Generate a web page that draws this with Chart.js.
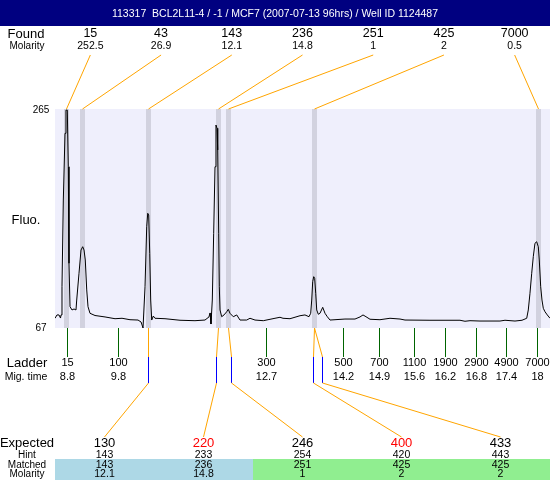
<!DOCTYPE html>
<html>
<head>
<meta charset="utf-8">
<script src="https://cdn.jsdelivr.net/npm/chart.js@4/dist/chart.umd.min.js"></script>
<style>
html,body{margin:0;padding:0;background:#fff;}
#wrap{width:550px;height:480px;position:relative;}
</style>
</head>
<body>
<div id="wrap"><canvas id="c" width="550" height="480"></canvas></div>
<script>
// ---- data ----
const titleText = "113317  BCL2L11-4 / -1 / MCF7 (2007-07-13 96hrs) / Well ID 1124487";
const traceTime = [8.565,8.604,8.643,8.673,8.683,8.702,8.728,8.761,8.780,8.806,8.825,8.839,8.859,8.898,8.937,8.976,8.990,9.035,9.074,9.107,9.133,9.158,9.186,9.211,9.250,9.348,9.544,9.740,9.877,10.033,10.190,10.250,10.288,10.327,10.360,10.380,10.399,10.419,10.438,10.458,10.489,10.522,10.718,11.012,11.305,11.501,11.579,11.599,11.618,11.644,11.671,11.697,11.716,11.736,11.750,11.769,11.781,11.795,11.828,11.873,11.926,11.957,11.990,12.055,12.122,12.186,12.317,12.382,12.480,12.642,12.871,12.969,13.028,13.165,13.361,13.458,13.537,13.570,13.590,13.609,13.629,13.648,13.668,13.688,13.719,13.752,13.805,13.850,13.895,13.948,14.241,14.437,14.535,14.594,14.652,14.731,14.926,15.122,15.318,15.416,15.905,16.492,16.590,16.688,16.884,17.275,17.373,17.569,17.706,17.798,17.829,17.862,17.896,17.927,17.960,17.993,18.025,18.044,18.072,18.097,18.123,18.156,18.201,18.254];
const traceFluo = [75.8,78.8,78.8,76,78.8,104.3,182.7,243,264,264,212.8,125.5,86.3,83.3,84.2,83.3,92.3,116.5,137.5,140.5,137.5,128.5,101.4,86.3,80.3,78.3,77,75.4,75.8,74.5,74.2,72.4,67,104.3,158.6,170.7,169.2,134.5,92.3,74.2,77.8,75.8,75.4,74,73.6,74.2,77,80.6,70.6,92.3,152.6,212.8,250.5,247.6,228,152.6,104.3,83.3,77.2,78.8,81.7,83.9,80.3,77.2,78.8,74.2,74.2,75.8,74.2,73.6,75.8,76.7,75.8,75.4,78.1,78.8,77.2,80.3,92.3,108.9,113.4,111.9,98.4,83.3,79.4,80.3,85.7,80.3,77.2,74.2,75.1,75.1,77,78.8,77.2,74.9,74.5,75.8,75.1,74.2,74,74,73.1,73.6,73.3,73.3,74,73.3,74,75.8,83.3,98.4,116.5,131.5,143.6,145,140.5,128.5,104.3,92.3,84.8,81.7,78.8,75.8];
const fluoMin = 67, fluoMax = 265;
const timeMin = 8.565, timeMax = 18.254;

const foundSizes = ["15","43","143","236","251","425","7000"];
const foundMolarity = ["252.5","26.9","12.1","14.8","1","2","0.5"];
const foundTimes = [8.79, 9.10, 10.38, 11.75, 11.96, 13.64, 18.01];

const ladderSizes = ["15","100","300","500","700","1100","1900","2900","4900","7000"];
const ladderTimes = [8.8, 9.8, 12.7, 14.2, 14.9, 15.6, 16.2, 16.8, 17.4, 18];

const expectedSizes = ["130","220","246","400","433"];
const expectedRed = [false, true, false, true, false];
const hintSizes = ["143","233","254","420","443"];
const matchedSizes = ["143","236","251","425","425"];
const matchedMolarity = ["12.1","14.8","1","2","2"];
const matchedFoundIdx = [2, 3, 4, 5, 5];
const expectedTimes = [10.39, 11.72, 12.01, 13.62, 13.80];
const matchedGroup = [0, 0, 1, 1, 1];

// ---- styles ----
const FONT = "'Liberation Sans', Arial, Helvetica, sans-serif";
const ORANGE = '#FFA500', BLUE = '#0000FF', GREEN = '#006400';
const cellColors = ['#ADD8E6', '#90EE90'];

function txt(ctx, s, x, y, size, color) {
  ctx.font = size + 'px ' + FONT;
  ctx.fillStyle = color || '#000';
  ctx.textAlign = 'center';
  ctx.textBaseline = 'middle';
  ctx.fillText(s, x, y);
}
function line(ctx, x1, y1, x2, y2, color) {
  ctx.strokeStyle = color;
  ctx.lineWidth = 1;
  ctx.beginPath();
  ctx.moveTo(x1, y1);
  ctx.lineTo(x2, y2);
  ctx.stroke();
}

const overlay = {
  id: 'overlay',
  beforeDraw(chart) {
    const {ctx, chartArea: a} = chart;
    const xs = chart.scales.x;
    ctx.save();
    ctx.fillStyle = '#fff';
    ctx.fillRect(0, 0, chart.width, chart.height);
    ctx.fillStyle = '#000080';
    ctx.fillRect(0, 0, chart.width, 26);
    ctx.fillStyle = '#EFEFFC';
    ctx.fillRect(a.left, a.top, a.right - a.left, a.bottom - a.top);
    ctx.fillStyle = '#D2D2DF';
    foundTimes.forEach(t => {
      const px = Math.round(xs.getPixelForValue(t));
      ctx.fillRect(px - 2, a.top, 5, a.bottom - a.top);
    });
    ctx.restore();
  },
  afterDraw(chart) {
    const {ctx, chartArea: a} = chart;
    const xs = chart.scales.x, ys = chart.scales.y;
    const w = a.right - a.left;
    ctx.save();
    // title
    txt(ctx, titleText, chart.width / 2, 14, 10.5, '#fff');

    // found row
    txt(ctx, 'Found', 26, 34, 13);
    txt(ctx, 'Molarity', 27, 46, 10);
    const nF = foundSizes.length;
    foundSizes.forEach((s, i) => {
      const cx = a.left + w * (i + 0.5) / nF;
      txt(ctx, s, cx, 34, 12.5);
      txt(ctx, foundMolarity[i], cx, 46, 10.5);
      const bx = Math.round(xs.getPixelForValue(foundTimes[i])) + 0.5;
      line(ctx, cx, 55, bx, a.top, ORANGE);
    });

    // y labels
    txt(ctx, String(fluoMax), 41, ys.getPixelForValue(fluoMax) + 1, 10);
    txt(ctx, String(fluoMin), 41, ys.getPixelForValue(fluoMin), 10);
    txt(ctx, 'Fluo.', 26, 220, 13);

    // ladder
    txt(ctx, 'Ladder', 27, 363, 13);
    txt(ctx, 'Mig. time', 26, 377, 10.5);
    ladderSizes.forEach((s, i) => {
      const px = Math.round(xs.getPixelForValue(ladderTimes[i])) + 0.5;
      line(ctx, px, a.bottom, px, a.bottom + 29, GREEN);
      txt(ctx, s, px, 363, 11);
      txt(ctx, String(ladderTimes[i]), px, 377, 11);
    });

    // expected rows
    const nE = expectedSizes.length;
    const colW = w / nE;
    matchedGroup.forEach((g, i) => {
      ctx.fillStyle = cellColors[g];
      ctx.fillRect(a.left + colW * i, 459, colW + 0.5, 21);
    });
    txt(ctx, 'Expected', 27, 443, 13);
    txt(ctx, 'Hint', 27, 455, 10);
    txt(ctx, 'Matched', 27, 465, 10);
    txt(ctx, 'Molarity', 27, 474.5, 10);
    expectedSizes.forEach((s, i) => {
      const cx = a.left + colW * (i + 0.5);
      txt(ctx, s, cx, 443, 13, expectedRed[i] ? '#FF0000' : '#000');
      txt(ctx, hintSizes[i], cx, 455, 10.5);
      txt(ctx, matchedSizes[i], cx, 465, 10.5);
      txt(ctx, matchedMolarity[i], cx, 474.5, 10.5);
      const bx = Math.round(xs.getPixelForValue(foundTimes[matchedFoundIdx[i]])) + 0.5;
      const ex = Math.round(xs.getPixelForValue(expectedTimes[i])) + 0.5;
      line(ctx, bx, a.bottom, ex, a.bottom + 29, ORANGE);
      line(ctx, ex, a.bottom + 29, ex, a.bottom + 55, BLUE);
      line(ctx, ex, a.bottom + 55, cx, 437, ORANGE);
    });
    ctx.restore();
  }
};

const points = traceTime.map((t, i) => ({x: t, y: traceFluo[i]}));

new Chart(document.getElementById('c'), {
  type: 'line',
  data: {
    datasets: [{
      data: points,
      borderColor: '#000',
      borderWidth: 1,
      pointRadius: 0,
      tension: 0,
      fill: false
    }]
  },
  options: {
    responsive: false,
    animation: false,
    events: [],
    layout: {padding: {left: 55, right: 0, top: 109, bottom: 152}},
    plugins: {legend: {display: false}, tooltip: {enabled: false}, title: {display: false}},
    scales: {
      x: {type: 'linear', min: timeMin, max: timeMax, display: false},
      y: {min: fluoMin, max: fluoMax, display: false}
    }
  },
  plugins: [overlay]
});
</script>
</body>
</html>
